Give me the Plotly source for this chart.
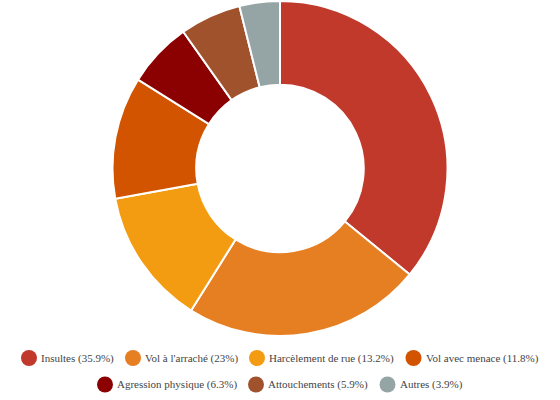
import plotly.graph_objects as go

labels = ["Insultes", "Vol à l'arraché", "Harcèlement de rue", "Vol avec menace",
          "Agression physique", "Attouchements", "Autres"]
values = [35.9, 23, 13.2, 11.8, 6.3, 5.9, 3.9]
colors = ["#c0392b", "#e67e22", "#f39c12", "#d35400", "#8b0000", "#a0522d", "#95a5a6"]

W, H = 560, 400

fig = go.Figure()
fig.add_trace(go.Pie(
    labels=labels, values=values, hole=0.5, sort=False, direction="clockwise",
    rotation=0, textinfo="none", showlegend=False,
    marker=dict(colors=colors, line=dict(color="white", width=2)),
    domain=dict(x=[0, 1], y=[1 - 336 / H, 1 - 1 / H]),
))

# Legend layout (pixel positions of circle centres, two centred rows)
legend_cx = [29, 133, 257, 413.5, 105, 256, 387.5]
legend_cy = [358, 358, 358, 358, 384.5, 384.5, 384.5]
r = 8
shapes = []
annotations = []
for lab, val, col, cx, cy in zip(labels, values, colors, legend_cx, legend_cy):
    shapes.append(dict(type="circle", xref="paper", yref="paper",
                       x0=(cx - r) / W, x1=(cx + r) / W,
                       y0=1 - (cy + r) / H, y1=1 - (cy - r) / H,
                       fillcolor=col, line=dict(width=0)))
    annotations.append(dict(xref="paper", yref="paper", x=(cx + r + 2) / W, y=1 - cy / H,
                            xanchor="left", yanchor="middle", showarrow=False,
                            text=f"{lab} ({val:g}%)",
                            font=dict(family="Liberation Serif", size=11, color="#444")))

fig.update_layout(
    width=W, height=H, margin=dict(l=0, r=0, t=0, b=0),
    paper_bgcolor="white", plot_bgcolor="white",
    font=dict(family="Liberation Serif"),
    shapes=shapes, annotations=annotations,
)
fig.write_html("out.html")
